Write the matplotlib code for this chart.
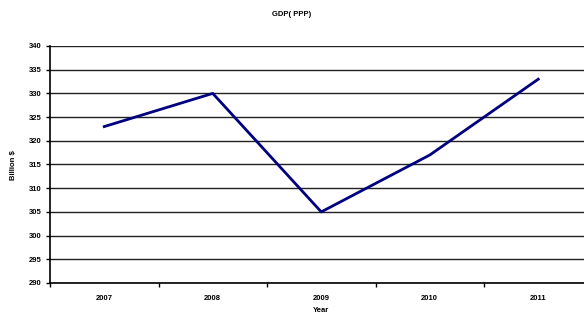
import matplotlib.pyplot as plt
import numpy as np

years = ['2007', '2008', '2009', '2010', '2011']
gdp = [323, 330, 305, 317, 333]
yticks = list(range(290, 341, 5))

plt.rcParams['font.family'] = ['Liberation Sans', 'DejaVu Sans']

fig = plt.figure(figsize=(5.84, 3.15), dpi=100)
W, H = 584, 315
# plot area runs off the right edge, as in the original
left, right, top, bottom = 50, 592.5, 46, 283
ax = fig.add_axes([left / W, 1 - bottom / H, (right - left) / W, (bottom - top) / H])

x = np.arange(len(years))
ax.plot(x, gdp, color='#000080', linewidth=2, zorder=3)

ax.set_xlim(-0.5, len(years) - 0.5)
ax.set_ylim(290, 340)
ax.set_yticks(yticks)
ax.set_yticklabels([str(v) for v in yticks], fontsize=5.5, fontweight='bold')
ax.set_xticks(np.arange(len(years) + 1) - 0.5)
ax.set_xticklabels([])
ax.set_xticks(x, minor=True)
ax.set_xticklabels(years, minor=True, fontsize=5.5, fontweight='bold')
ax.tick_params(axis='x', which='minor', length=0, pad=9)
ax.tick_params(axis='x', which='major', length=3, width=1, direction='out')
ax.tick_params(axis='y', length=3, width=1, direction='out', pad=3)

ax.grid(axis='y', color='#222222', linewidth=1)
for s in ['top', 'right']:
    ax.spines[s].set_visible(False)
for s in ['left', 'bottom']:
    ax.spines[s].set_linewidth(1.2)

fig.text(292 / W, 1 - 15 / H, 'GDP( PPP)', ha='center', va='center', fontsize=5.5, fontweight='bold')
fig.text(14 / W, 1 - 165 / H, 'Billion $', ha='center', va='center', rotation=90, fontsize=5.5, fontweight='bold')
fig.text(321 / W, 1 - 311 / H, 'Year', ha='center', va='center', fontsize=5.5, fontweight='bold')

fig.savefig('out.png', dpi=100)
